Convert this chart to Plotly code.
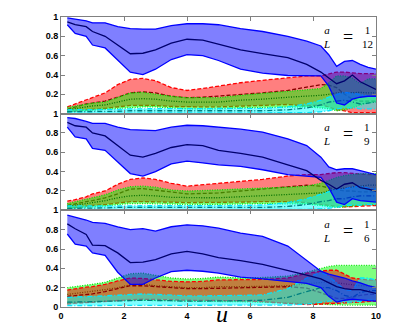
import plotly.graph_objects as go
from plotly.subplots import make_subplots

# sample positions along u (shared by every curve)
u = [0.2, 0.45, 0.8, 1.0, 1.4, 1.8, 2.2, 2.6, 3.0, 3.5, 4.0, 4.5, 5.0,
     5.7, 6.4, 7.2, 7.8, 8.25, 8.5, 8.75, 9.0, 9.25, 9.5, 9.75, 10.0]

# ---- panel 1 : a/L = 1/12
blue_up_1 = [0.99, 0.98, 0.96, 0.94, 0.94, 0.90, 0.88, 0.875, 0.875, 0.91, 0.93, 0.93, 0.92,
             0.88, 0.85, 0.80, 0.75, 0.70, 0.61, 0.49, 0.54, 0.55, 0.51, 0.48, 0.46]
blue_mid_1 = [0.95, 0.92, 0.90, 0.85, 0.80, 0.71, 0.62, 0.625, 0.66, 0.73, 0.77, 0.76, 0.72,
              0.66, 0.62, 0.58, 0.51, 0.43, 0.37, 0.31, 0.34, 0.40, 0.33, 0.29, 0.25]
blue_lo_1 = [0.92, 0.83, 0.80, 0.71, 0.68, 0.56, 0.43, 0.405, 0.46, 0.56, 0.61, 0.60, 0.55,
             0.46, 0.42, 0.395, 0.39, 0.39, 0.285, 0.11, 0.09, 0.15, 0.17, 0.18, 0.18]
red_up_1 = [0.07, 0.10, 0.15, 0.17, 0.215, 0.30, 0.355, 0.365, 0.34, 0.27, 0.24, 0.26, 0.285,
            0.32, 0.345, 0.37, 0.39, 0.39, 0.41, 0.43, 0.43, 0.42, 0.415, 0.415, 0.415]
red_mid_1 = [0.045, 0.07, 0.10, 0.11, 0.13, 0.17, 0.215, 0.225, 0.215, 0.18, 0.165, 0.17, 0.18,
             0.20, 0.215, 0.24, 0.27, 0.30, 0.295, 0.27, 0.20, 0.15, 0.13, 0.13, 0.13]
red_lo_1 = [0.02, 0.03, 0.04, 0.045, 0.055, 0.07, 0.085, 0.085, 0.085, 0.075, 0.07, 0.07, 0.07,
            0.08, 0.085, 0.095, 0.08, 0.09, 0.07, 0.04, 0.03, 0.01, 0.01, 0.01, 0.01]
green_up_1 = [0.065, 0.08, 0.10, 0.11, 0.12, 0.17, 0.215, 0.22, 0.20, 0.18, 0.165, 0.165, 0.165,
              0.19, 0.21, 0.23, 0.25, 0.26, 0.32, 0.39, 0.39, 0.37, 0.31, 0.36, 0.36]
green_mid_1 = [0.04, 0.05, 0.07, 0.08, 0.09, 0.12, 0.15, 0.155, 0.15, 0.13, 0.12, 0.12, 0.12,
               0.14, 0.15, 0.17, 0.18, 0.19, 0.20, 0.215, 0.215, 0.22, 0.22, 0.215, 0.215]
green_lo_1 = [0.02, 0.025, 0.03, 0.04, 0.045, 0.055, 0.065, 0.07, 0.07, 0.06, 0.05, 0.05, 0.05,
              0.06, 0.065, 0.07, 0.07, 0.06, 0.05, 0.03, 0.04, 0.06, 0.09, 0.11, 0.12]
cyan_up_1 = [0.04, 0.04, 0.045, 0.045, 0.045, 0.045, 0.05, 0.05, 0.05, 0.05, 0.05, 0.05, 0.05,
             0.05, 0.055, 0.07, 0.10, 0.14, 0.17, 0.20, 0.22, 0.21, 0.20, 0.18, 0.17]
cyan_mid_1 = [0.02, 0.02, 0.025, 0.025, 0.025, 0.025, 0.03, 0.03, 0.03, 0.03, 0.03, 0.03, 0.03,
              0.03, 0.03, 0.04, 0.06, 0.09, 0.12, 0.13, 0.14, 0.12, 0.10, 0.11, 0.12]
cyan_lo_1 = [0.005, 0.005, 0.005, 0.005, 0.005, 0.005, 0.005, 0.005, 0.005, 0.005, 0.005, 0.005, 0.005,
             0.005, 0.005, 0.005, 0.01, 0.02, 0.03, 0.05, 0.06, 0.06, 0.05, 0.05, 0.05]

# ---- panel 2 : a/L = 1/9
blue_up_2 = [0.96, 0.95, 0.92, 0.90, 0.90, 0.86, 0.835, 0.83, 0.825, 0.86, 0.88, 0.875, 0.86,
             0.84, 0.81, 0.74, 0.67, 0.55, 0.45, 0.42, 0.43, 0.43, 0.41, 0.39, 0.37]
blue_mid_2 = [0.91, 0.875, 0.86, 0.80, 0.77, 0.67, 0.57, 0.55, 0.59, 0.65, 0.68, 0.67, 0.62,
              0.59, 0.55, 0.47, 0.41, 0.31, 0.27, 0.22, 0.27, 0.285, 0.235, 0.22, 0.20]
blue_lo_2 = [0.86, 0.76, 0.74, 0.64, 0.62, 0.505, 0.38, 0.355, 0.40, 0.48, 0.51, 0.49, 0.47,
             0.455, 0.42, 0.37, 0.355, 0.34, 0.235, 0.085, 0.06, 0.12, 0.10, 0.09, 0.085]
red_up_2 = [0.095, 0.11, 0.14, 0.17, 0.20, 0.27, 0.32, 0.335, 0.32, 0.28, 0.25, 0.265, 0.285,
            0.30, 0.32, 0.355, 0.37, 0.37, 0.38, 0.39, 0.39, 0.38, 0.375, 0.37, 0.37]
red_mid_2 = [0.05, 0.07, 0.09, 0.10, 0.13, 0.17, 0.22, 0.225, 0.21, 0.185, 0.17, 0.175, 0.18,
             0.20, 0.22, 0.25, 0.26, 0.25, 0.235, 0.22, 0.20, 0.20, 0.19, 0.19, 0.19]
red_lo_2 = [0.02, 0.03, 0.045, 0.05, 0.06, 0.075, 0.09, 0.09, 0.09, 0.085, 0.08, 0.08, 0.08,
            0.085, 0.09, 0.09, 0.08, 0.06, 0.05, 0.04, 0.035, 0.04, 0.045, 0.05, 0.05]
green_up_2 = [0.07, 0.09, 0.11, 0.13, 0.16, 0.21, 0.245, 0.25, 0.24, 0.21, 0.20, 0.205, 0.21,
              0.22, 0.23, 0.24, 0.25, 0.28, 0.31, 0.34, 0.36, 0.37, 0.38, 0.38, 0.38]
green_mid_2 = [0.04, 0.05, 0.07, 0.08, 0.10, 0.13, 0.15, 0.155, 0.15, 0.135, 0.13, 0.13, 0.13,
               0.14, 0.15, 0.16, 0.17, 0.18, 0.20, 0.22, 0.23, 0.24, 0.25, 0.26, 0.26]
green_lo_2 = [0.02, 0.025, 0.035, 0.04, 0.045, 0.06, 0.07, 0.07, 0.07, 0.065, 0.06, 0.06, 0.06,
              0.065, 0.07, 0.07, 0.065, 0.05, 0.04, 0.03, 0.035, 0.045, 0.05, 0.06, 0.06]
cyan_up_2 = [0.045, 0.045, 0.05, 0.05, 0.05, 0.05, 0.05, 0.05, 0.05, 0.05, 0.05, 0.05, 0.05,
             0.05, 0.055, 0.08, 0.12, 0.17, 0.20, 0.22, 0.22, 0.24, 0.25, 0.23, 0.22]
cyan_mid_2 = [0.02, 0.02, 0.025, 0.025, 0.025, 0.03, 0.03, 0.03, 0.03, 0.03, 0.03, 0.03, 0.03,
              0.03, 0.03, 0.04, 0.06, 0.09, 0.10, 0.12, 0.12, 0.14, 0.15, 0.15, 0.15]
cyan_lo_2 = [0.005, 0.005, 0.005, 0.005, 0.005, 0.005, 0.005, 0.005, 0.005, 0.005, 0.005, 0.005, 0.005,
             0.005, 0.005, 0.005, 0.01, 0.015, 0.02, 0.03, 0.05, 0.05, 0.055, 0.06, 0.06]

# ---- panel 3 : a/L = 1/6
blue_up_3 = [0.95, 0.93, 0.90, 0.875, 0.865, 0.83, 0.80, 0.81, 0.785, 0.83, 0.85, 0.84, 0.815,
             0.765, 0.73, 0.63, 0.48, 0.37, 0.34, 0.32, 0.30, 0.27, 0.25, 0.22, 0.20]
blue_mid_3 = [0.86, 0.81, 0.75, 0.64, 0.635, 0.56, 0.46, 0.465, 0.49, 0.55, 0.575, 0.55, 0.51,
              0.48, 0.44, 0.38, 0.33, 0.29, 0.25, 0.21, 0.19, 0.18, 0.18, 0.16, 0.14]
blue_lo_3 = [0.755, 0.65, 0.63, 0.56, 0.535, 0.36, 0.235, 0.235, 0.30, 0.365, 0.38, 0.37, 0.35,
             0.31, 0.29, 0.26, 0.245, 0.20, 0.11, 0.05, 0.07, 0.08, 0.07, 0.065, 0.06]
red_up_3 = [0.175, 0.19, 0.205, 0.21, 0.235, 0.27, 0.30, 0.295, 0.28, 0.265, 0.26, 0.265, 0.28,
            0.28, 0.285, 0.30, 0.35, 0.37, 0.38, 0.38, 0.34, 0.30, 0.29, 0.28, 0.28]
red_mid_3 = [0.11, 0.12, 0.13, 0.135, 0.16, 0.19, 0.22, 0.22, 0.21, 0.20, 0.19, 0.19, 0.195,
             0.20, 0.205, 0.21, 0.195, 0.15, 0.12, 0.09, 0.09, 0.10, 0.12, 0.13, 0.13]
red_lo_3 = [0.03, 0.04, 0.045, 0.05, 0.055, 0.065, 0.075, 0.08, 0.08, 0.075, 0.07, 0.07, 0.07,
            0.065, 0.055, 0.04, 0.025, 0.03, 0.035, 0.04, 0.04, 0.045, 0.05, 0.055, 0.06]
green_up_3 = [0.20, 0.21, 0.22, 0.235, 0.255, 0.30, 0.345, 0.35, 0.33, 0.30, 0.29, 0.295, 0.31,
              0.30, 0.305, 0.32, 0.36, 0.40, 0.42, 0.43, 0.43, 0.43, 0.43, 0.43, 0.43]
green_mid_3 = [0.13, 0.14, 0.15, 0.16, 0.18, 0.20, 0.23, 0.235, 0.22, 0.21, 0.20, 0.20, 0.21,
               0.21, 0.215, 0.22, 0.24, 0.25, 0.26, 0.25, 0.24, 0.23, 0.22, 0.22, 0.21]
green_lo_3 = [0.04, 0.045, 0.05, 0.055, 0.06, 0.065, 0.07, 0.07, 0.07, 0.065, 0.06, 0.06, 0.06,
              0.055, 0.05, 0.04, 0.03, 0.025, 0.02, 0.02, 0.02, 0.02, 0.02, 0.02, 0.02]
cyan_up_3 = [0.10, 0.105, 0.11, 0.11, 0.115, 0.12, 0.13, 0.135, 0.13, 0.12, 0.115, 0.115, 0.12,
             0.12, 0.125, 0.19, 0.30, 0.36, 0.32, 0.25, 0.18, 0.17, 0.30, 0.30, 0.28]
cyan_mid_3 = [0.05, 0.05, 0.055, 0.055, 0.06, 0.06, 0.065, 0.07, 0.07, 0.065, 0.06, 0.06, 0.06,
              0.065, 0.07, 0.10, 0.16, 0.20, 0.20, 0.17, 0.12, 0.10, 0.15, 0.17, 0.17]
cyan_lo_3 = [0.015, 0.015, 0.015, 0.02, 0.02, 0.02, 0.02, 0.02, 0.02, 0.02, 0.02, 0.02, 0.02,
             0.02, 0.02, 0.02, 0.03, 0.05, 0.06, 0.06, 0.05, 0.05, 0.06, 0.07, 0.07]

panel_labels = [("1", "12"), ("1", "9"), ("1", "6")]
x_ticks = [0, 2, 4, 6, 8, 10]
y_ticks = [0, 0.2, 0.4, 0.6, 0.8, 1]
y_ticktext = ["0", "0.2", "0.4", "0.6", "0.8", "1"]

styles = {
    "blue": ("rgba(0,0,255,0.5)", "#0000ff", "#00006e", "solid"),
    "red": ("rgba(255,0,0,0.5)", "#ff0000", "#8b0000", "4px,2px"),
    "green": ("rgba(0,255,0,0.5)", "#00e600", "#007000", "1px,1.5px"),
    "cyan": ("rgba(0,255,255,0.5)", "#00e8ff", "#008080", "5px,2px,1px,2px"),
}

panels = [
    [("red", red_up_1, red_mid_1, red_lo_1), ("green", green_up_1, green_mid_1, green_lo_1),
     ("cyan", cyan_up_1, cyan_mid_1, cyan_lo_1), ("blue", blue_up_1, blue_mid_1, blue_lo_1)],
    [("red", red_up_2, red_mid_2, red_lo_2), ("green", green_up_2, green_mid_2, green_lo_2),
     ("cyan", cyan_up_2, cyan_mid_2, cyan_lo_2), ("blue", blue_up_2, blue_mid_2, blue_lo_2)],
    [("green", green_up_3, green_mid_3, green_lo_3), ("red", red_up_3, red_mid_3, red_lo_3),
     ("cyan", cyan_up_3, cyan_mid_3, cyan_lo_3), ("blue", blue_up_3, blue_mid_3, blue_lo_3)],
]

fig = make_subplots(rows=3, cols=1, shared_xaxes=True, vertical_spacing=0)

for row, bands in enumerate(panels, start=1):
    for name, up, mid, lo in bands:
        fill, edge, center, dash = styles[name]
        fig.add_trace(go.Scatter(x=u + u[::-1], y=up + lo[::-1], mode="lines", fill="toself",
                                 fillcolor=fill, line=dict(width=0, color="rgba(0,0,0,0)"),
                                 hoverinfo="skip", showlegend=False), row=row, col=1)
        for ys, c in ((up, edge), (lo, edge), (mid, center)):
            fig.add_trace(go.Scatter(x=u, y=ys, mode="lines",
                                     line=dict(color=c, width=1.3, dash=dash),
                                     showlegend=False), row=row, col=1)

tick_font = dict(family="Liberation Sans", size=9, color="black", weight="bold")
for row in (1, 2, 3):
    fig.update_xaxes(range=[0, 10], tickvals=x_ticks, showgrid=False, zeroline=False,
                     showline=True, linecolor="#808080", mirror="ticks", ticks="inside",
                     ticklen=4, tickcolor="#808080", tickfont=tick_font,
                     showticklabels=(row == 3), row=row, col=1)
    vals = y_ticks if row == 3 else y_ticks[1:]
    text = y_ticktext if row == 3 else y_ticktext[1:]
    fig.update_yaxes(range=[0, 1], tickvals=vals, ticktext=text, showgrid=False, zeroline=False,
                     showline=True, linecolor="#808080", mirror="ticks", ticks="inside",
                     ticklen=4, tickcolor="#808080", tickfont=tick_font, row=row, col=1)

# a/L = 1/n labels
serif = dict(family="Liberation Serif", size=11, color="black")
for i, (num, den) in enumerate(panel_labels):
    yref = "y" if i == 0 else f"y{i + 1}"
    xref = "x" if i == 0 else f"x{i + 1}"
    fig.add_annotation(x=8.42, y=0.79, xref=xref, yref=yref, showarrow=False, borderpad=0,
                       text="<i>a</i><br><i>L</i>", font=serif)
    fig.add_annotation(x=9.1, y=0.79, xref=xref, yref=yref, showarrow=False, borderpad=0,
                       text="=", font=dict(family="Liberation Serif", size=18, color="black"))
    fig.add_annotation(x=9.72, y=0.79, xref=xref, yref=yref, showarrow=False, borderpad=0,
                       text=f"{num}<br>{den}", font=serif)

fig.add_annotation(x=0.51, y=-0.075, xref="paper", yref="paper", showarrow=False,
                   text="<i>u</i>", font=dict(family="Liberation Serif", size=24, color="black"))

fig.update_layout(width=407, height=329, margin=dict(l=53, r=39, t=4, b=30),
                  plot_bgcolor="white", paper_bgcolor="white", showlegend=False)

fig.write_html("out.html")
